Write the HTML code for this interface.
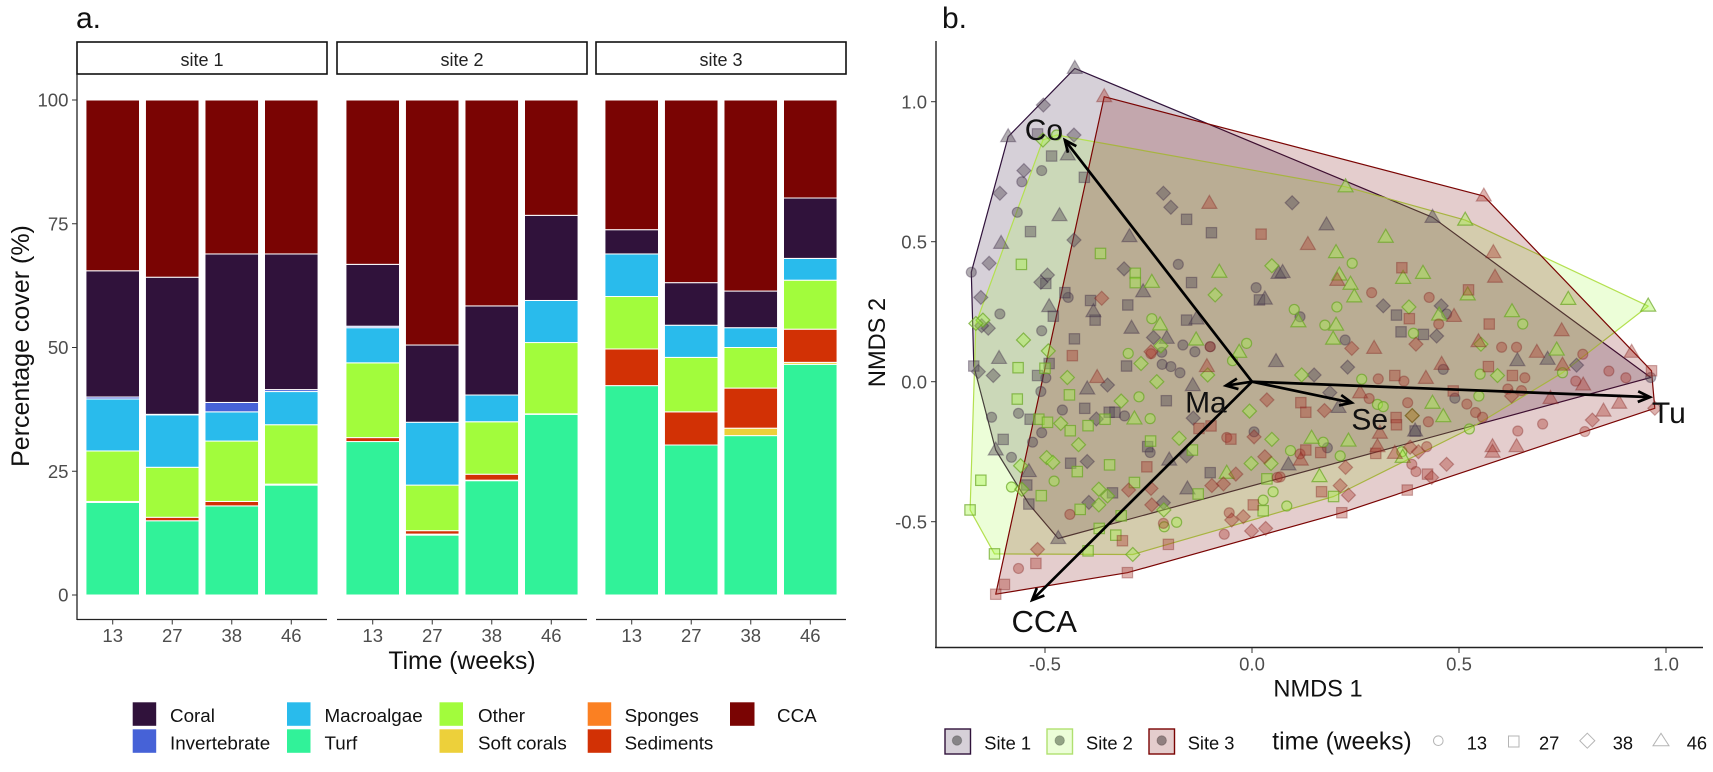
<!DOCTYPE html>
<html>
<head>
<meta charset="utf-8">
<title>Benthic cover and NMDS ordination</title>
<style>
html,body{margin:0;padding:0;background:#fff;width:1713px;height:772px;overflow:hidden}
svg{display:block;font-family:"Liberation Sans",sans-serif}
</style>
</head>
<body>
<svg id="fig" xmlns="http://www.w3.org/2000/svg" width="1713" height="772" viewBox="0 0 1713 772">
  <rect x="0" y="0" width="1713" height="772" fill="#fff"/>
  <text x="76" y="28" font-size="30" fill="#111">a.</text>
  <text x="942" y="28" font-size="30" fill="#111">b.</text>
  <text transform="translate(29,346) rotate(-90)" text-anchor="middle" font-size="25" fill="#111">Percentage cover (%)</text>
  <text x="462" y="669" text-anchor="middle" font-size="24.7" fill="#111">Time (weeks)</text>
  <text x="1318" y="696.5" text-anchor="middle" font-size="23.6" fill="#111">NMDS 1</text>
  <text transform="translate(885,342.5) rotate(-90)" text-anchor="middle" font-size="23.6" fill="#111">NMDS 2</text>
  <g id="barsLayer"></g>
  <g id="ordLayer"></g>

  <g font-size="18.8" fill="#111">
    <g><rect x="132.7" y="702.3" width="23.5" height="23.5" fill="#30123B"/><text x="170" y="722.2">Coral</text></g>
    <g><rect x="132.7" y="729.3" width="23.5" height="23.5" fill="#4662D7"/><text x="170" y="749.3">Invertebrate</text></g>
    <g><rect x="287" y="702.3" width="23.5" height="23.5" fill="#29BBEC"/><text x="324.5" y="722.2">Macroalgae</text></g>
    <g><rect x="287" y="729.3" width="23.5" height="23.5" fill="#31F299"/><text x="324.5" y="749.3">Turf</text></g>
    <g><rect x="439.5" y="702.3" width="23.5" height="23.5" fill="#A2FC3C"/><text x="478" y="722.2">Other</text></g>
    <g><rect x="439.5" y="729.3" width="23.5" height="23.5" fill="#EDD03A"/><text x="478" y="749.3">Soft corals</text></g>
    <g><rect x="587.7" y="702.3" width="23.5" height="23.5" fill="#FB8022"/><text x="624.6" y="722.2">Sponges</text></g>
    <g><rect x="587.7" y="729.3" width="23.5" height="23.5" fill="#D23105"/><text x="624.6" y="749.3">Sediments</text></g>
    <g><rect x="730" y="702.3" width="24.5" height="23.5" fill="#7A0403"/><text x="777" y="722.2">CCA</text></g>
  </g>

  <g font-size="18.3" fill="#111">
    <g><rect x="945" y="729" width="25.5" height="25" fill="rgba(48,18,59,.2)" stroke="#30123B" stroke-width="1.4"/><circle cx="957" cy="740.5" r="4.7" fill="rgba(70,70,70,.55)" stroke="rgba(70,70,70,.35)"/><text x="984.3" y="749.3">Site 1</text></g>
    <g><rect x="1047" y="729" width="25.5" height="25" fill="rgba(162,252,60,.2)" stroke="#B0E070" stroke-width="1.4"/><circle cx="1059.7" cy="740.5" r="4.7" fill="rgba(75,90,65,.55)" stroke="rgba(75,90,65,.35)"/><text x="1086" y="749.3">Site 2</text></g>
    <g><rect x="1149" y="729" width="25.5" height="25" fill="rgba(122,4,3,.2)" stroke="#7A0403" stroke-width="1.4"/><circle cx="1161.7" cy="740.5" r="4.7" fill="rgba(75,65,65,.55)" stroke="rgba(75,55,55,.35)"/><text x="1187.7" y="749.3">Site 3</text></g>
    <text x="1272.3" y="749.3" font-size="24.6">time (weeks)</text>
    <g><circle cx="1438.3" cy="740.7" r="4.8" fill="none" stroke="#b5b5b5"/><text x="1466.7" y="749.3">13</text></g>
    <g><rect x="1508.5" y="736" width="10.5" height="11" fill="none" stroke="#b5b5b5"/><text x="1539" y="749.3">27</text></g>
    <g><path d="M1587.3 733.2l7.5 7.5l-7.5 7.5l-7.5-7.5z" fill="none" stroke="#b5b5b5"/><text x="1612.7" y="749.3">38</text></g>
    <g><path d="M1661 733.3l8 12.4h-16z" fill="none" stroke="#b5b5b5"/><text x="1686.7" y="749.3">46</text></g>
  </g>
</svg>

<script>
// ---- Panel a data: percentage cover (12 columns: 3 sites x 4 weeks) ----
var weekLabels = ["13","27","38","46"];
var siteLabels = ["site 1","site 2","site 3"];
var coverTicks = [0,25,50,75,100];
var turf       = [18.7,15,18,22.2,31,12.1,23.1,36.5,42.3,30.3,32.2,46.6];
var softCorals = [0,0,0,0,0,0.2,0.1,0,0,0,1.5,0.4];
var sediments  = [0.2,0.7,0.9,0.2,0.8,0.7,1.2,0.1,7.4,6.7,8.1,6.7];
var sponges    = [0,0,0,0,0,0,0,0,0,0,0,0];
var other      = [10.2,10.1,12.2,12,15.1,9.2,10.6,14.4,10.6,11,8.2,9.9];
var macroalgae = [10.5,10.6,5.9,6.7,7.1,12.7,5.4,8.5,8.6,6.5,4,4.4];
var invertebrate = [0.4,0.1,1.9,0.4,0.3,0,0,0,0,0,0,0];
var coral      = [25.5,27.7,30,27.4,12.5,15.6,18,17.2,4.9,8.6,7.4,12.2];
var cca        = [34.5,35.8,31.1,31.1,33.2,49.5,41.6,23.3,26.2,36.9,38.6,19.8];

// ---- Panel b data: NMDS scores (x, y pairs) per site and week ----
var s1w13 = [-.508,.754,-.556,.714,-.567,.605,-.678,.391,-.178,.419,.01,.336,-.444,.301,-.609,.242,-.508,.182,-.167,.131,-.138,.107,-.101,.125,-.218,.105,-.217,.062,-.196,.054,-.174,.032,-.498,.014,-.51,-.035,-.458,-.101,-.564,-.113,-.629,-.127,-.308,-.122,-.508,-.182,-.53,-.216,-.246,-.253,.005,-.179,-.581,-.27,.47,.242,.116,.232,.225,.149,.462,.044,.963,.015,.49,-.059,.182,-.236];
var s1w27 = [-.518,.885,-.484,.806,-.405,.73,-.158,.58,-.098,.532,-.535,.536,-.146,.354,.018,.292,-.498,.351,-.452,.318,-.39,.29,-.3,.274,-.48,.234,-.379,.22,-.158,.22,-.429,.153,-.672,.056,-.49,.065,-.518,.022,-.303,.056,-.207,-.068,-.404,-.095,-.345,-.109,-.331,-.109,-.536,-.134,-.601,-.206,-.252,-.232,-.438,-.291,-.101,-.325,-.544,-.369,-.337,-.397,-.539,-.437,.36,.178,.414,.169,.349,.238,.394,-.176];
var s1w38 = [-.504,.988,-.43,.881,-.551,.754,-.609,.673,-.214,.673,-.196,.623,-.43,.506,-.635,.423,-.494,.381,-.309,.403,-.51,.355,-.655,.301,-.637,.191,-.653,.2,-.238,.158,-.661,.036,-.625,.022,-.349,-.012,-.376,-.133,-.142,-.13,-.398,-.285,-.158,-.265,-.394,-.431,-.214,-.432,.097,.639,.317,.271,.457,.271,.446,.163,.231,.052,.15,.024,.188,-.039,.784,.059];
var s1w46 = [-.428,1.119,-.589,.875,-.445,.81,-.465,.593,-.296,.518,-.606,.494,-.263,.321,.064,.387,.031,.295,-.49,.268,-.383,.25,-.134,.224,-.291,.191,-.206,.155,-.611,.083,.058,.072,-.398,-.026,-.143,-.014,-.619,-.244,-.2,-.28,-.539,-.321,-.156,-.383,-.468,-.56,.18,.56,.436,.587,.074,.39,.641,.075,.714,.08,.209,-.092,.394,-.176,.088,-.297];
var s2w13 = [-.472,.881,-.242,.225,-.299,.101,-.013,.137,-.047,.075,-.273,-.054,-.246,-.132,-.478,-.355,-.581,-.376,.051,-.393,.027,-.423,-.182,-.502,-.212,-.518,.242,.423,.102,.258,.205,.267,.176,.202,.39,.173,.654,.206,.265,.009,.551,.027,.75,.032,.548,-.051,.303,-.081,.317,-.089,.525,-.169,.172,-.216,.093,-.246,.213,-.265,.362,-.25,.084,-.444];
var s2w27 = [-.366,.458,-.557,.419,-.282,.387,-.282,.354,-.565,.05,-.5,.048,-.441,-.047,-.567,-.062,-.355,-.134,-.515,-.134,-.494,-.145,-.439,-.175,-.396,-.157,-.245,-.212,-.144,-.244,-.344,-.297,-.422,-.321,-.655,-.352,-.284,-.36,.036,-.347,-.13,-.401,-.509,-.407,.027,-.461,-.415,-.456,-.681,-.458,-.316,-.479,-.369,-.524,-.329,-.548,-.622,-.615,-.396,-.604,.197,-.41];
var s2w38 = [-.505,.863,-.089,.31,.048,.414,-.65,.22,-.667,.208,-.552,.149,-.22,.128,-.492,.11,-.268,.065,-.446,.015,-.23,0,-.107,.024,-.316,-.069,-.006,-.105,-.462,-.149,-.419,-.225,-.176,-.202,.048,-.206,-.496,-.271,-.481,-.288,-.002,-.292,.046,-.292,-.559,-.3,-.556,-.384,-.37,-.384,-.349,-.408,-.37,-.44,-.213,-.458,-.288,-.617,.379,.267,.553,.134,.12,.024,.593,.022,.387,-.121];
var s2w46 = [-.242,.355,-.079,.391,-.222,.203,-.135,.149,-.031,.105,-.284,-.133,-.061,-.327,.226,.696,.515,.577,.323,.516,.203,.461,.365,.369,.413,.387,.211,.381,.238,.348,.247,.303,.521,.31,.764,.294,.957,.27,.628,.25,.452,.238,.112,.214,.203,.202,.196,.152,.736,.113,.436,-.077,.462,-.125,.144,-.202,.233,-.212,.364,-.27,.163,-.339];
var s3w13 = [-.244,.1,-.101,.125,-.061,-.199,.061,-.342,-.44,-.474,-.055,-.468,-.214,-.506,-.564,-.667,-.067,-.545,.289,.318,.428,.301,.451,.206,.603,.123,.639,.123,.799,.098,.305,.01,.367,.002,.659,.014,.782,.002,.862,.038,.903,.014,.804,-.178,.702,-.151,.642,-.176,.618,-.026,.651,-.032,.519,-.08,.54,-.11,.557,-.127,.283,-.06,.376,-.075,.426,-.143,.116,-.258,.422,-.232,.386,-.295,.396,-.321,.068,-.34];
var s3w27 = [.022,.527,-.434,.093,-.128,-.167,-.099,-.158,-.051,-.205,-.254,-.304,.003,-.44,-.313,-.568,-.202,-.581,-.522,-.649,-.301,-.682,-.598,-.724,-.619,-.759,.362,.407,.523,.328,.38,.225,.573,.206,.345,.022,.571,.054,.629,.022,.965,.039,.486,-.033,.118,-.075,.13,-.109,.348,-.128,.349,-.154,.13,-.244,.166,-.253,.299,-.256,.424,-.33,.168,-.393,.375,-.387,.217,-.468];
var s3w38 = [-.363,.298,-.244,.107,.036,-.065,.005,-.197,.031,-.268,-.039,-.33,-.097,-.371,-.069,-.365,-.244,-.381,-.298,-.387,-.242,-.44,-.049,-.494,-.021,-.482,-.518,-.599,-.001,-.533,.033,-.524,.241,.119,.396,.134,.627,-.051,.175,-.103,.387,-.121,.382,-.234,.402,-.25,.226,-.306,.434,-.342,.47,-.295,.213,-.371,.233,-.405,.973,-.095,.822,-.137];
var s3w46 = [-.357,1.018,-.103,.637,-.374,.015,-.109,.054,.56,.663,.135,.49,.583,.461,.587,.373,.206,.362,.488,.233,.295,.119,.748,.182,.547,.143,.688,.105,.75,.059,.458,.062,.42,.012,.8,-.012,.917,.105,.887,-.077,.849,-.105,.721,-.06,.639,-.232,.581,-.232,.581,-.252,.261,-.04,.309,-.184,.118,-.28,.303,-.232,.345,-.256];
var nmdsTicksX = [-0.5,0,0.5,1];
var nmdsTicksY = [-0.5,0,0.5,1];
var vectorNames = ["Co","Tu","CCA","Ma","Se"];
var vectorX = [-0.452,0.961,-0.531,-0.063,0.241];
var vectorY = [0.863,-0.055,-0.78,-0.014,-0.075];

// ---- Rendering ----
var NS = 'http://www.w3.org/2000/svg';
function mk(tag, attrs, parent, txt){
  var e = document.createElementNS(NS, tag);
  for (var k in attrs) e.setAttribute(k, attrs[k]);
  if (txt !== undefined) e.textContent = txt;
  parent.appendChild(e);
  return e;
}
var barsLayer = document.getElementById('barsLayer');
var ordLayer = document.getElementById('ordLayer');

// Panel a scales
var panelLeft = [77, 337, 596];
var panelWidth = 250;
var band = panelWidth / 4.2;
function yCover(v){ return 595 - 4.95 * v; }
function xBar(col){
  var site = Math.floor(col / 4), wk = col % 4;
  return panelLeft[site] + (0.6 + wk) * band;
}
var stackOrder = [
  {id:'turf', vals:turf, color:'#31F299'},
  {id:'soft-corals', vals:softCorals, color:'#EDD03A'},
  {id:'sediments', vals:sediments, color:'#D23105'},
  {id:'sponges', vals:sponges, color:'#FB8022'},
  {id:'other', vals:other, color:'#A2FC3C'},
  {id:'macroalgae', vals:macroalgae, color:'#29BBEC'},
  {id:'invertebrate', vals:invertebrate, color:'#4662D7'},
  {id:'coral', vals:coral, color:'#30123B'},
  {id:'cca', vals:cca, color:'#7A0403'}
];
var barW = band * 0.9;
for (var c = 0; c < 12; c++){
  var base = 0;
  for (var s = 0; s < stackOrder.length; s++){
    var v = stackOrder[s].vals[c];
    if (v <= 0) continue;
    var r = mk('rect', {x:xBar(c)-barW/2, y:yCover(base+v), width:barW, height:v*4.95, fill:stackOrder[s].color, stroke:'#fff', 'stroke-width':1}, barsLayer);
    
    
    base += v;
  }
}
siteLabels.forEach(function(lbl, i){
  var l = panelLeft[i];
  var st = mk('rect', {x:l, y:42, width:panelWidth, height:32, fill:'#fff', stroke:'#111', 'stroke-width':1.6}, barsLayer);
  
  
  var t = mk('text', {x:l+panelWidth/2, y:66, 'text-anchor':'middle', 'font-size':18, fill:'#222'}, barsLayer, lbl);
  
  
  var ax = mk('line', {x1:l, x2:l+panelWidth, y1:619.5, y2:619.5, stroke:'#222', 'stroke-width':1.3}, barsLayer);
  
  
  weekLabels.forEach(function(w, j){
    var x = xBar(i*4+j);
    var tk = mk('line', {x1:x, x2:x, y1:619.5, y2:624.5, stroke:'#333', 'stroke-width':1}, barsLayer);
    
    
    var tl = mk('text', {x:x, y:642, 'text-anchor':'middle', 'font-size':18.5, fill:'#4d4d4d'}, barsLayer, w);
    
    
  });
});
var yAxisA = mk('line', {x1:77, x2:77, y1:74, y2:620, stroke:'#222', 'stroke-width':1.3}, barsLayer);


coverTicks.forEach(function(t){
  var y = yCover(t);
  var tk = mk('line', {x1:72, x2:77, y1:y, y2:y, stroke:'#333', 'stroke-width':1}, barsLayer);
  
  
  var tl = mk('text', {x:68.5, y:y+6.7, 'text-anchor':'end', 'font-size':18.6, fill:'#4d4d4d'}, barsLayer, String(t));
  
  
});

// Panel b scales
function xN(v){ return 1252 + 414 * v; }
function yN(v){ return 381.7 - 280 * v; }

function pairs(a){ var o = []; for (var i = 0; i < a.length; i += 2) o.push([a[i], a[i+1]]); return o; }
function hull(pts){
  var p = pts.slice().sort(function(a,b){ return a[0]-b[0] || a[1]-b[1]; });
  function cross(o,a,b){ return (a[0]-o[0])*(b[1]-o[1])-(a[1]-o[1])*(b[0]-o[0]); }
  var lo = [], up = [], i;
  for (i = 0; i < p.length; i++){ while (lo.length>1 && cross(lo[lo.length-2],lo[lo.length-1],p[i])<=0) lo.pop(); lo.push(p[i]); }
  for (i = p.length-1; i >= 0; i--){ while (up.length>1 && cross(up[up.length-2],up[up.length-1],p[i])<=0) up.pop(); up.push(p[i]); }
  lo.pop(); up.pop();
  return lo.concat(up);
}
var sites = [
  {id:'site-1', weeks:[s1w13,s1w27,s1w38,s1w46], hullFill:'rgba(48,18,59,.2)', hullStroke:'#30123B', ptFill:'rgba(90,80,90,.46)', ptStroke:'rgba(48,30,60,.35)'},
  {id:'site-2', weeks:[s2w13,s2w27,s2w38,s2w46], hullFill:'rgba(162,252,60,.2)', hullStroke:'#B4E050', ptFill:'rgba(165,245,70,.4)', ptStroke:'rgba(105,165,35,.7)'},
  {id:'site-3', weeks:[s3w13,s3w27,s3w38,s3w46], hullFill:'rgba(122,4,3,.2)', hullStroke:'#7A0403', ptFill:'rgba(170,55,45,.38)', ptStroke:'rgba(122,30,25,.35)'}
];
var shapeNames = ['circle','square','diamond','triangle'];
sites.forEach(function(st){
  var all = [];
  st.weeks.forEach(function(w){ all = all.concat(pairs(w)); });
  var h = hull(all).map(function(p){ return xN(p[0]).toFixed(1)+','+yN(p[1]).toFixed(1); }).join(' ');
  var pg = mk('polygon', {points:h, fill:st.hullFill, stroke:st.hullStroke, 'stroke-width':1.2, 'stroke-linejoin':'round'}, ordLayer);
  
  
});
sites.forEach(function(st){
  st.weeks.forEach(function(w, wi){
    pairs(w).forEach(function(p){
      var x = xN(p[0]), y = yN(p[1]), m;
      var style = {fill:st.ptFill, stroke:st.ptStroke, 'stroke-width':1.2};
      if (wi === 0){ style.cx = x; style.cy = y; style.r = 5; m = mk('circle', style, ordLayer); }
      else if (wi === 1){ style.x = x-5.2; style.y = y-5.2; style.width = 10.4; style.height = 10.4; m = mk('rect', style, ordLayer); }
      else if (wi === 2){ style.d = 'M'+x+' '+(y-7)+'l7 7l-7 7l-7-7z'; m = mk('path', style, ordLayer); }
      else { style.d = 'M'+x+' '+(y-8)+'l7.5 13h-15z'; m = mk('path', style, ordLayer); }
      
      
    });
  });
});

// Axes of panel b
var yAxisB = mk('line', {x1:936, x2:936, y1:41, y2:648, stroke:'#222', 'stroke-width':1.4}, ordLayer);


var xAxisB = mk('line', {x1:935, x2:1703, y1:647.5, y2:647.5, stroke:'#222', 'stroke-width':1.4}, ordLayer);


nmdsTicksY.forEach(function(t){
  var y = yN(t);
  var tk = mk('line', {x1:931, x2:936, y1:y, y2:y, stroke:'#333', 'stroke-width':1}, ordLayer);
  
  
  var tl = mk('text', {x:927, y:y+6.6, 'text-anchor':'end', 'font-size':18.5, fill:'#4d4d4d'}, ordLayer, t.toFixed(1));
  
  
});
nmdsTicksX.forEach(function(t){
  var x = xN(t);
  var tk = mk('line', {x1:x, x2:x, y1:648, y2:653, stroke:'#333', 'stroke-width':1}, ordLayer);
  
  
  var tl = mk('text', {x:x, y:670.5, 'text-anchor':'middle', 'font-size':18.5, fill:'#4d4d4d'}, ordLayer, t.toFixed(1));
  
  
});

// Vectors and labels
var labelDx = [-21, 19, 12, -20, 18];
var labelDy = [0, 26, 32, 27, 27];
var labelSize = [30, 30, 31, 30, 30];
vectorNames.forEach(function(nm, i){
  var x0 = xN(0), y0 = yN(0), x1 = xN(vectorX[i]), y1 = yN(vectorY[i]);
  var ang = Math.atan2(y1-y0, x1-x0), L = 13, sp = 0.42;
  var ln = mk('line', {x1:x0, y1:y0, x2:x1-Math.cos(ang)*2, y2:y1-Math.sin(ang)*2, stroke:'#000', 'stroke-width':2.7}, ordLayer);
  
  
  var d = 'M'+(x1-L*Math.cos(ang-sp))+' '+(y1-L*Math.sin(ang-sp))+'L'+x1+' '+y1+'L'+(x1-L*Math.cos(ang+sp))+' '+(y1-L*Math.sin(ang+sp));
  var hd = mk('path', {d:d, fill:'none', stroke:'#000', 'stroke-width':2.7}, ordLayer);
  
  
  var lb = mk('text', {x:x1+labelDx[i], y:y1+labelDy[i], 'text-anchor':'middle', 'font-size':labelSize[i], fill:'#111'}, ordLayer, nm);
  
  
});
</script>
</body>
</html>
